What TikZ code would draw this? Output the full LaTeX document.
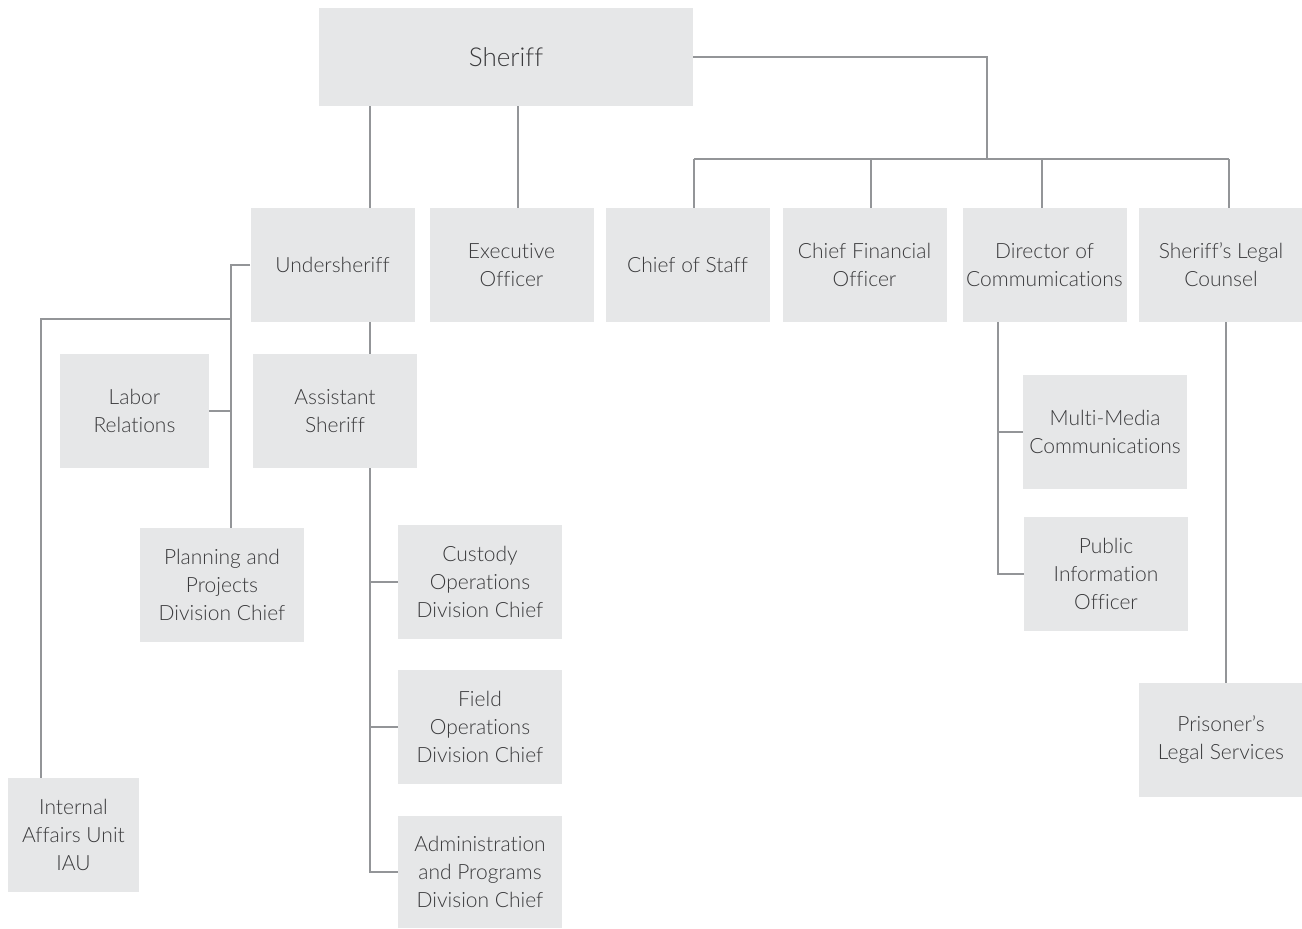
\documentclass[tikz,border=0pt]{standalone}
\usepackage{fontspec}
\setmainfont{Lato}[UprightFont=* Light, Ligatures=NoCommon]
\usepackage{xcolor}
\usetikzlibrary{positioning,calc}

\definecolor{boxgray}{HTML}{E6E7E8}
\definecolor{linegray}{HTML}{939598}
\definecolor{textgray}{HTML}{3A3A3C}

\tikzset{
  box/.style={rectangle, fill=boxgray, text=textgray, align=center, inner sep=0pt,
    minimum width=82pt, minimum height=57pt, font=\fontsize{10.5}{14}\selectfont},
  link/.style={draw=linegray, line width=1pt}
}

\begin{document}
\begin{tikzpicture}[x=0.5pt, y=-0.5pt]
      \useasboundingbox (0,0) rectangle (1302,928);

      % Top
      \node[box, minimum width=187pt, minimum height=49pt, font=\fontsize{13}{16}\selectfont] (sheriff) at (506,57) {Sheriff};

      % Second row
      \node[box] (under) at (332.5,265) {Undersheriff};
      \node[box] (exec) at (511.5,265) {Executive\\Officer};
      \node[box] (cos) at (687.5,265) {Chief of Staff};
      \node[box] (cfo) at (864.5,265) {Chief Financial\\Officer};
      \node[box] (doc) at (1044.5,265) {Director of\\Commumications};
      \node[box] (legal) at (1221,265) {Sheriff's Legal\\Counsel};

      % Under the undersheriff
      \node[box, minimum width=74.5pt] (labor) at (134.5,411) {Labor\\Relations};
      \node[box] (asst) at (335,411) {Assistant\\Sheriff};
      \node[box] (plan) at (222,585) {Planning and\\Projects\\Division Chief};
      \node[box, minimum width=65.5pt] (iau) at (73.5,835) {Internal\\Affairs Unit\\IAU};

      % Divisions
      \node[box] (custody) at (480,582) {Custody\\Operations\\Division Chief};
      \node[box] (field) at (480,727) {Field\\Operations\\Division Chief};
      \node[box, minimum height=56pt] (admin) at (480,872) {Administration\\and Programs\\Division Chief};

      % Communications and legal
      \node[box] (mmc) at (1105,432) {Multi-Media\\Communications};
      \node[box] (pio) at (1106,574) {Public\\Information\\Officer};
      \node[box] (pls) at (1221,740) {Prisoner's\\Legal Services};

      % Trunk lines
      \coordinate (tU) at (370,0);
      \coordinate (tE) at (518,0);
      \coordinate (uBus) at (231,0);
      \coordinate (iBus) at (41,319);
      \coordinate (cBus) at (998,0);
      \coordinate (lBus) at (1226,0);
      \coordinate (bus) at (987,159);

      % Sheriff connections
      \draw[link] (sheriff.south -| tU) -- (under.north -| tU);
      \draw[link] (sheriff.south -| tE) -- (exec.north -| tE);
      \draw[link] (sheriff.east) -| (bus);
      \draw[link] (694,159) -- (1229,159);
      \foreach \n/\x in {cos/694, cfo/871, doc/1042, legal/1229}
        \draw[link] (\x,159) -- (\n.north -| {(\x,0)});

      % Undersheriff connections
      \draw[link] (under.west) -| (uBus |- plan.north);
      \draw[link] (labor.east) -- (labor.east -| uBus);
      \draw[link] (iBus -| uBus) -- (iBus) -- (iBus |- iau.north);
      \draw[link] (under.south -| tU) -- (asst.north -| tU);

      % Assistant sheriff connections
      \draw[link] (asst.south -| tU) |- (admin.west);
      \foreach \n in {custody, field}
        \draw[link] (\n.west) -- (\n.west -| tU);

      % Communications and legal connections
      \draw[link] (doc.south -| cBus) |- (pio.west);
      \draw[link] (mmc.west) -- (mmc.west -| cBus);
      \draw[link] (legal.south -| lBus) -- (pls.north -| lBus);
    \end{tikzpicture}
\end{document}
